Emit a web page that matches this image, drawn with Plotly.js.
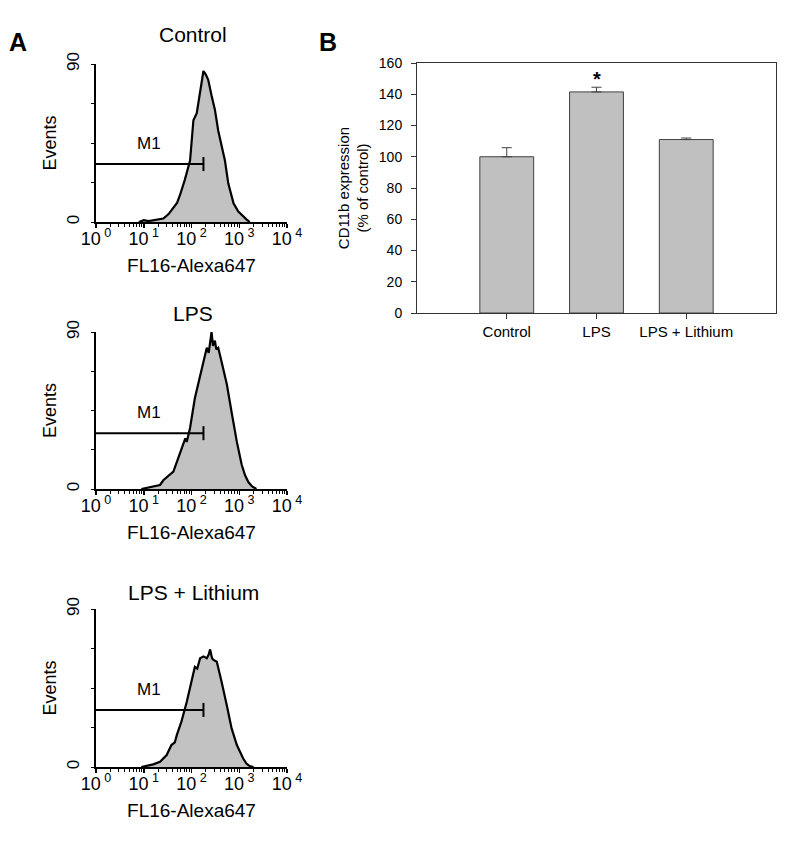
<!DOCTYPE html>
<html>
<head>
<meta charset="utf-8">
<script src="https://cdn.plot.ly/plotly-3.0.1.min.js"></script>
<style>html,body{margin:0;padding:0;background:#fff;}#chart{width:800px;height:845px;}</style>
</head>
<body>
<div id="chart"></div>
<script>
// ---------- Panel A: flow cytometry histograms (FL16-Alexa647 intensity vs events) ----------
const panelTitles = ['Control', 'LPS', 'LPS + Lithium'];

const controlIntensity = [7.9, 10, 12.6, 15.8, 20, 25.7, 33.1, 41.7, 50.1, 57.5, 72.4, 93.3, 100, 109.6, 128.8, 151.4, 177.8, 199.5, 223.9, 263, 309, 363, 426.6, 501, 589, 758.6, 955, 1202, 1413, 1660];
const controlEvents    = [0, 1, 0.5, 1, 1.5, 2, 4.5, 7.8, 11, 15.4, 24, 35, 46, 58, 62, 73, 86, 84, 81, 72, 64, 52, 44, 35, 22, 10.6, 6, 3, 1.5, 0];

const lpsIntensity = [8.9, 12.6, 15.8, 21.9, 25.7, 31.6, 41.7, 52.5, 60.3, 67.6, 74.1, 79.4, 93.3, 117.5, 151.4, 177.8, 208.9, 229.1, 245.5, 263, 281.8, 309, 331.1, 363.1, 426.6, 549.5, 691.8, 891.3, 1122, 1318, 1549, 1862, 2291];
const lpsEvents    = [0, 1, 1.5, 2.3, 5, 7, 10, 17.6, 22, 25, 29, 27, 35, 52, 65, 73, 81, 78, 86, 90, 82, 85, 80, 81, 73, 60, 44, 27, 14, 8, 4, 1.5, 0];

const lithIntensity = [8.9, 12.6, 15.8, 21.9, 30.2, 38, 44.7, 49, 61.7, 79.4, 100, 117.5, 131.8, 151.4, 177.8, 208.9, 229.1, 245.5, 269.2, 288.4, 338.8, 380.2, 426.6, 549.5, 691.8, 891.3, 1202, 1413, 1660, 1995];
const lithEvents    = [0, 1, 1.5, 3, 6.8, 12.5, 14, 18, 26, 37, 48.6, 57, 56, 62, 63, 62, 64, 67, 62, 61, 60, 55, 48.6, 35, 22, 12.5, 5, 2, 0.5, 0];

// M1 gate marker: from 10^0 to end intensity at a given event level
const gateStart = [1, 1, 1];
const gateEnd   = [178, 178, 178];
const gateLevel = [33, 32, 32.5];
const gateCap   = 4;

const decadeVals  = [1, 10, 100, 1000, 10000];
const decadeTicks = ['10<sup> 0</sup>', '10<sup> 1</sup>', '10<sup> 2</sup>', '10<sup> 3</sup>', '10<sup> 4</sup>'];
const eventTickVals = [0, 22.5, 45, 67.5, 90];
const eventTickText = ['0', '', '', '', '90'];

// ---------- Panel B: CD11b expression bar chart ----------
const barCategories = ['Control', 'LPS', 'LPS + Lithium'];
const barValues     = [100, 141.5, 111];
const barErrors     = [5.8, 3, 1];
const barStarValue  = 150;

// ---------- build ----------
const minorVals = [];
for (let d = 0; d < 4; d++) {
  for (let m = 2; m <= 9; m++) minorVals.push(m * Math.pow(10, d));
}

const histSets = [
  [controlIntensity, controlEvents],
  [lpsIntensity, lpsEvents],
  [lithIntensity, lithEvents]
];

const traces = [];
histSets.forEach((s, i) => {
  const ax = i === 0 ? '' : String(i + 1);
  traces.push({
    x: s[0], y: s[1], xaxis: 'x' + ax, yaxis: 'y' + ax,
    type: 'scatter', mode: 'lines', fill: 'tozeroy',
    fillcolor: '#c2c2c2', line: {color: '#000', width: 2.2},
    hoverinfo: 'skip', showlegend: false
  });
  traces.push({
    x: [gateStart[i], gateEnd[i]], y: [gateLevel[i], gateLevel[i]],
    xaxis: 'x' + ax, yaxis: 'y' + ax, type: 'scatter', mode: 'lines',
    line: {color: '#000', width: 2}, showlegend: false, hoverinfo: 'skip'
  });
  traces.push({
    x: [gateEnd[i], gateEnd[i]], y: [gateLevel[i] - gateCap, gateLevel[i] + gateCap],
    xaxis: 'x' + ax, yaxis: 'y' + ax, type: 'scatter', mode: 'lines',
    line: {color: '#000', width: 2}, showlegend: false, hoverinfo: 'skip'
  });
});

traces.push({
  x: barCategories, y: barValues, type: 'bar', xaxis: 'x4', yaxis: 'y4',
  width: 0.6,
  marker: {color: '#c0c0c0', line: {color: '#404040', width: 1}},
  error_y: {type: 'data', symmetric: false, array: barErrors, arrayminus: barErrors.map(() => 0),
            color: '#404040', thickness: 1, width: 5},
  showlegend: false, hoverinfo: 'skip'
});

const FONT = 'Liberation Sans, Arial, sans-serif';

function histX(anchor, title) {
  return {
    domain: [0.12, 0.35875], anchor: anchor, type: 'log', range: [0, 4],
    showline: true, linewidth: 2, linecolor: '#000', mirror: false,
    ticks: 'outside', ticklen: 4, tickwidth: 1.5, tickcolor: '#000',
    tickmode: 'array', tickvals: decadeVals, ticktext: decadeTicks,
    ticklabelstandoff: -5,
    minor: {tickmode: 'array', tickvals: minorVals, ticks: 'outside', ticklen: 3, tickwidth: 1, tickcolor: '#000', showgrid: false},
    showgrid: false, zeroline: false, tickfont: {size: 18, color: '#000'},
    title: {text: title, font: {size: 19, color: '#000'}, standoff: 11},
    automargin: false, fixedrange: true
  };
}
function histY(anchor, dom) {
  return {
    domain: dom, anchor: anchor, range: [0, 90],
    showline: true, linewidth: 2, linecolor: '#000',
    ticks: 'outside', ticklen: 3, tickwidth: 1, tickcolor: '#000',
    tickmode: 'array', tickvals: eventTickVals, ticktext: eventTickText,
    tickangle: -90, tickfont: {size: 17, color: '#000'}, ticklabelstandoff: 5,
    showgrid: false, zeroline: false,
    title: {text: 'Events', font: {size: 18, color: '#000'}, standoff: 3},
    automargin: false, fixedrange: true
  };
}

const layout = {
  width: 800, height: 845,
  margin: {l: 0, r: 0, t: 0, b: 0},
  paper_bgcolor: '#fff', plot_bgcolor: 'rgba(0,0,0,0)',
  font: {family: FONT, color: '#000'},
  showlegend: false,
  xaxis: histX('y', 'FL16-Alexa647'),
  yaxis: histY('x', [1 - 222 / 845, 1 - 64 / 845]),
  xaxis2: histX('y2', 'FL16-Alexa647'),
  yaxis2: histY('x2', [1 - 489 / 845, 1 - 332 / 845]),
  xaxis3: histX('y3', 'FL16-Alexa647'),
  yaxis3: histY('x3', [1 - 767 / 845, 1 - 609 / 845]),
  xaxis4: {
    domain: [417 / 800, 776 / 800], anchor: 'y4', type: 'category', range: [-1, 3],
    showline: true, mirror: true, linewidth: 1, linecolor: '#333',
    ticks: 'outside', ticklen: 5, tickcolor: '#333', showgrid: false, zeroline: false,
    tickfont: {size: 15, color: '#000'}, automargin: false, fixedrange: true
  },
  yaxis4: {
    domain: [1 - 313 / 845, 1 - 63 / 845], anchor: 'x4', range: [0, 160], dtick: 20,
    showline: true, mirror: true, linewidth: 1, linecolor: '#333',
    ticks: 'outside', ticklen: 5, tickcolor: '#333', showgrid: false, zeroline: false,
    tickfont: {size: 14, color: '#000'}, ticklabelstandoff: 6,
    title: {text: 'CD11b expression<br>(% of control)', font: {size: 15, color: '#000'}, standoff: 6},
    automargin: false, fixedrange: true
  },
  annotations: [
    {text: '<b>A</b>', xref: 'paper', yref: 'paper', x: 18 / 800, y: 1 - 42 / 845, showarrow: false, font: {size: 25}, xanchor: 'center', yanchor: 'middle'},
    {text: '<b>B</b>', xref: 'paper', yref: 'paper', x: 328 / 800, y: 1 - 42 / 845, showarrow: false, font: {size: 25}, xanchor: 'center', yanchor: 'middle'},
    {text: panelTitles[0], xref: 'paper', yref: 'paper', x: 193 / 800, y: 1 - 35 / 845, showarrow: false, font: {size: 21}, xanchor: 'center', yanchor: 'middle'},
    {text: panelTitles[1], xref: 'paper', yref: 'paper', x: 193 / 800, y: 1 - 313 / 845, showarrow: false, font: {size: 21}, xanchor: 'center', yanchor: 'middle'},
    {text: panelTitles[2], xref: 'paper', yref: 'paper', x: 193 / 800, y: 1 - 592 / 845, showarrow: false, font: {size: 21}, xanchor: 'center', yanchor: 'middle'},
    {text: 'M1', xref: 'x', yref: 'y', x: 1.1, y: 45, showarrow: false, font: {size: 17}},
    {text: 'M1', xref: 'x2', yref: 'y2', x: 1.1, y: 44, showarrow: false, font: {size: 17}},
    {text: 'M1', xref: 'x3', yref: 'y3', x: 1.1, y: 44, showarrow: false, font: {size: 17}},
    {text: '<b>*</b>', xref: 'x4', yref: 'y4', x: barCategories[1], y: barStarValue, showarrow: false, font: {size: 20}, yanchor: 'middle'}
  ]
};

Plotly.newPlot('chart', traces, layout, {displayModeBar: false, staticPlot: true});
</script>
</body>
</html>
